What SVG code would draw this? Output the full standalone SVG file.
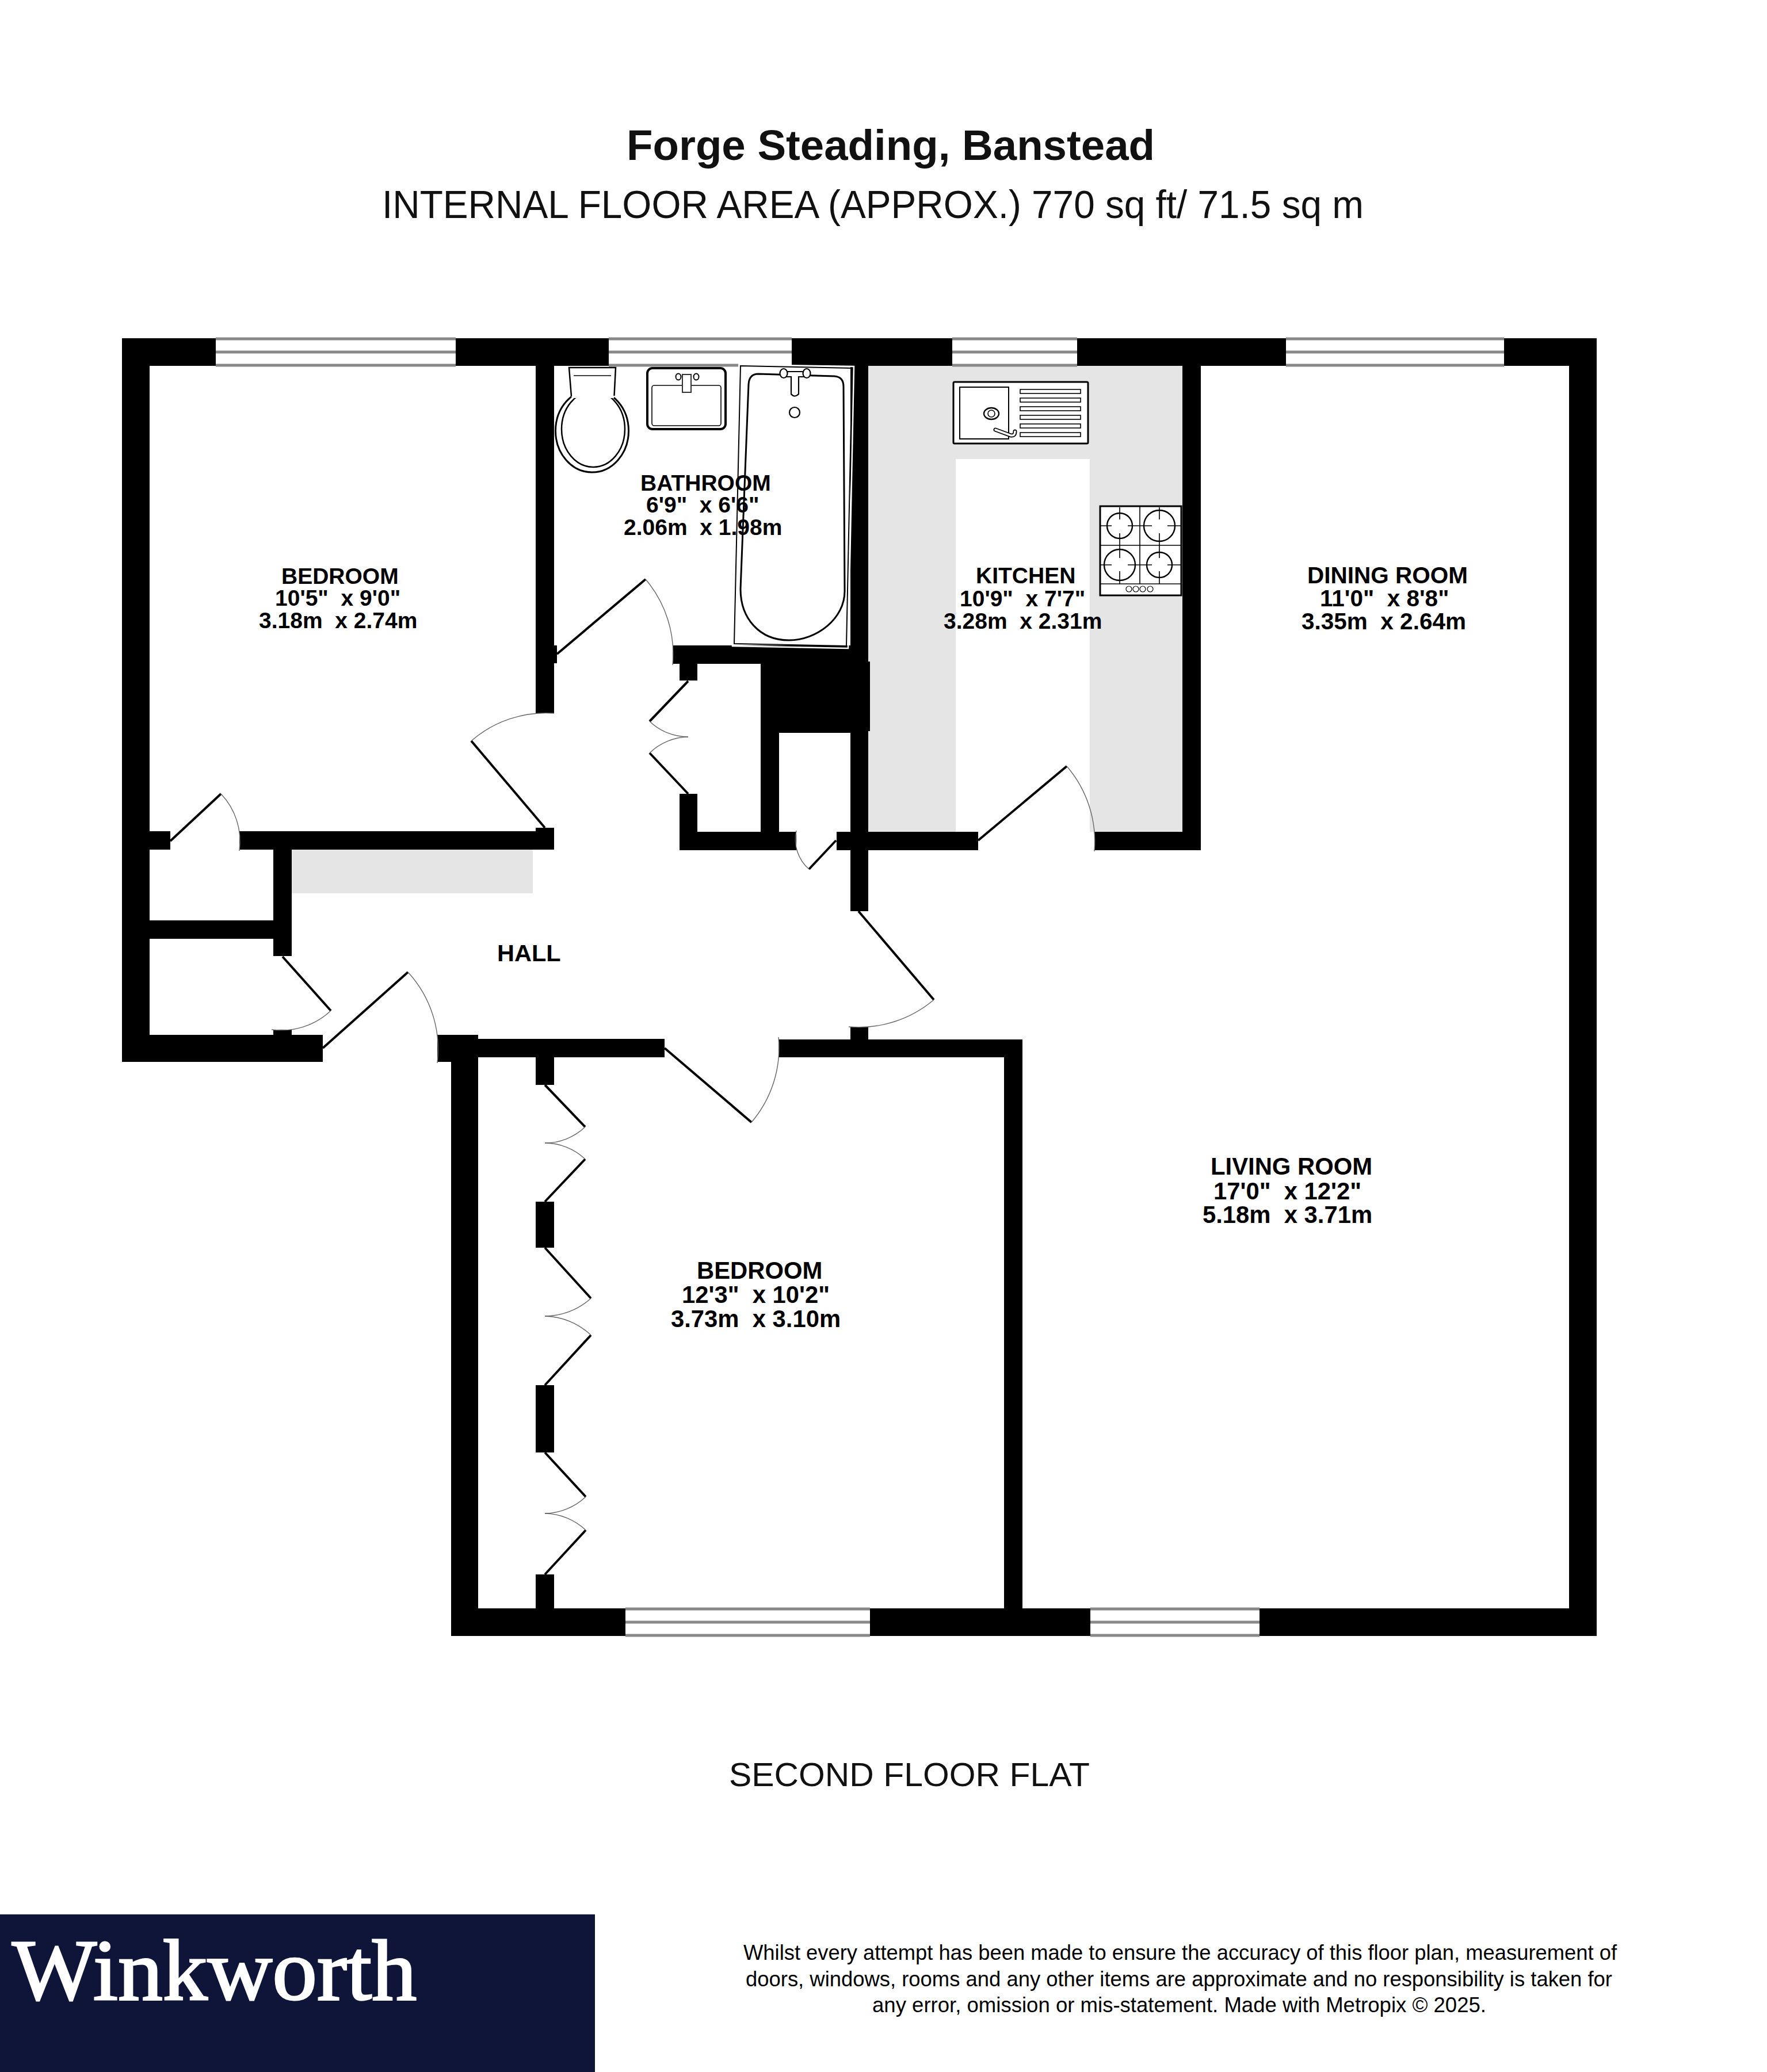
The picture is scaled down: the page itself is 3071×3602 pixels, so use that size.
<svg xmlns="http://www.w3.org/2000/svg" width="3071" height="3602" viewBox="0 0 3071 3602">
<style>
text{font-family:"Liberation Sans",Arial,sans-serif;white-space:pre;fill:#000}
.b{font-weight:bold}
.s1{font-size:39px}.s2{font-size:40.5px}.s3{font-size:41.8px}
.r{fill:#111}
#walls rect{fill:#000}
.g{fill:#e5e5e5}
.leaf{stroke:#000;stroke-width:4;fill:none}
.arc{stroke:#666;stroke-width:1.4;fill:none}
.win{fill:#fff}
.wl{stroke:#888;stroke-width:5;fill:none}
.f{fill:#fff;stroke:#000}
.l{fill:none;stroke:#000}
</style>
<rect width="3071" height="3602" fill="#fff"/>
<g id="floors">
<rect class="g" x="1509" y="636" width="546" height="810"/>
<rect x="1661" y="798" width="233" height="648" fill="#fff"/>
<rect class="g" x="507" y="1477" width="419" height="76"/>
</g>
<g id="walls">
<rect x="212" y="588" width="2563" height="48"/>
<rect x="212" y="588" width="48" height="1258"/>
<rect x="2727" y="588" width="48" height="2256"/>
<rect x="931" y="588" width="32" height="652"/>
<rect x="931" y="1122" width="37" height="31"/>
<rect x="212" y="1445" width="84" height="32"/>
<rect x="416" y="1445" width="547" height="32"/>
<rect x="931" y="1439" width="32" height="38"/>
<rect x="475" y="1445" width="32" height="217"/>
<rect x="212" y="1600" width="295" height="32"/>
<rect x="212" y="1799" width="349" height="47"/>
<rect x="475" y="1790" width="32" height="20"/>
<rect x="760" y="1799" width="71" height="47"/>
<rect x="784" y="1799" width="47" height="1045"/>
<rect x="831" y="1806" width="324" height="32"/>
<rect x="931" y="1806" width="32" height="80"/>
<rect x="1353" y="1807" width="424" height="31"/>
<rect x="1478" y="1785" width="31" height="53"/>
<rect x="1745" y="1807" width="32" height="1037"/>
<rect x="784" y="2796" width="1991" height="48"/>
<rect x="931" y="2089" width="32" height="80"/>
<rect x="931" y="2408" width="32" height="117"/>
<rect x="931" y="2737" width="32" height="107"/>
<rect x="1478" y="588" width="31" height="996"/>
<rect x="2055" y="588" width="32" height="889"/>
<rect x="1454" y="1446" width="246" height="32"/>
<rect x="1902" y="1446" width="185" height="32"/>
<rect x="1169" y="1122" width="309" height="32"/>
<rect x="1181" y="1122" width="31" height="61"/>
<rect x="1181" y="1380" width="31" height="98"/>
<rect x="1181" y="1446" width="203" height="32"/>
<rect x="1322" y="1122" width="32" height="356"/>
<rect x="1354" y="1150" width="124" height="124"/>
<rect x="1478" y="1150" width="34" height="121"/>
</g>
<g id="windows">
<g id="window-1"><rect class="win" x="375" y="586" width="417" height="51"/><path class="wl" d="M375 589H792M375 612H792M375 635H792"/></g>
<g id="window-2"><rect class="win" x="1058" y="586" width="318" height="51"/><path class="wl" d="M1058 589H1376M1058 612H1376M1058 635H1283"/></g>
<g id="window-3"><rect class="win" x="1655" y="586" width="217" height="51"/><path class="wl" d="M1655 589H1872M1655 612H1872M1655 635H1872"/></g>
<g id="window-4"><rect class="win" x="2235" y="586" width="379" height="51"/><path class="wl" d="M2235 589H2614M2235 612H2614M2235 635H2614"/></g>
<g id="window-5"><rect class="win" x="1087" y="2794" width="425" height="51"/><path class="wl" d="M1087 2797H1512M1087 2820H1512M1087 2843H1512"/></g>
<g id="window-6"><rect class="win" x="1895" y="2794" width="294" height="51"/><path class="wl" d="M1895 2797H2189M1895 2820H2189M1895 2843H2189"/></g>
</g>
<g id="doors">
<g id="door-cupboard-1"><path class="leaf" d="M296 1462L384 1380"/><path class="arc" d="M384 1380A120 120 0 0 1 416 1479"/></g>
<g id="door-bedroom-1"><path class="leaf" d="M947 1439L819 1288"/><path class="arc" d="M819 1288A198 198 0 0 1 963 1240"/></g>
<g id="door-bathroom"><path class="leaf" d="M968 1137L1122 1007"/><path class="arc" d="M1122 1007A201 201 0 0 1 1169 1156"/></g>
<g id="door-cupboard-2"><path class="leaf" d="M1196 1184L1129 1254"/><path class="arc" d="M1129 1254A97 97 0 0 0 1196 1281"/><path class="leaf" d="M1196 1380L1129 1309"/><path class="arc" d="M1129 1309A99 99 0 0 1 1196 1281"/></g>
<g id="door-cupboard-3"><path class="leaf" d="M491 1663L575 1757"/><path class="arc" d="M575 1757A126 126 0 0 1 472 1790"/></g>
<g id="door-entry"><path class="leaf" d="M561 1822L709 1690"/><path class="arc" d="M709 1690A198 198 0 0 1 760 1848"/></g>
<g id="door-cupboard-4"><path class="leaf" d="M1453 1461L1406 1511"/><path class="arc" d="M1406 1511A69 69 0 0 1 1384 1444"/></g>
<g id="door-kitchen"><path class="leaf" d="M1700 1461L1854 1332"/><path class="arc" d="M1854 1332A201 201 0 0 1 1902 1480"/></g>
<g id="door-living"><path class="leaf" d="M1492 1584L1623 1738"/><path class="arc" d="M1623 1738A202 202 0 0 1 1475 1785"/></g>
<g id="door-bedroom-2"><path class="leaf" d="M1155 1822L1306 1951"/><path class="arc" d="M1306 1951A199 199 0 0 0 1353 1803"/></g>
<g id="door-wardrobe-1"><path class="leaf" d="M947 1886L1017 1959"/><path class="arc" d="M1017 1959A101 101 0 0 1 947 1987"/><path class="leaf" d="M947 2089L1017 2015"/><path class="arc" d="M1017 2015A102 102 0 0 0 947 1987"/></g>
<g id="door-wardrobe-2"><path class="leaf" d="M947 2169L1027 2257"/><path class="arc" d="M1027 2257A119 119 0 0 1 947 2288"/><path class="leaf" d="M947 2408L1027 2321"/><path class="arc" d="M1027 2321A120 120 0 0 0 947 2288"/></g>
<g id="door-wardrobe-3"><path class="leaf" d="M947 2525L1018 2602"/><path class="arc" d="M1018 2602A106 106 0 0 1 947 2631"/><path class="leaf" d="M947 2737L1018 2660"/><path class="arc" d="M1018 2660A106 106 0 0 0 947 2631"/></g>
</g>
<g id="toilet">
<ellipse cx="1029" cy="749" rx="63.5" ry="72" class="f" stroke-width="3"/>
<ellipse cx="1031" cy="746" rx="55" ry="66" class="l" stroke-width="2.5"/>
<path fill="#fff" d="M989 639H1070L1068 688L1067 692H994L993 689Z"/>
<path class="l" stroke-width="2.5" d="M993 689L989 639H1070L1067.5 688"/>
<path class="l" stroke-width="1.5" d="M997 653H1062"/>
</g>
<g id="basin">
<rect x="1125" y="640" width="136" height="106" rx="9" class="f" stroke-width="4"/>
<rect x="1133" y="670" width="120" height="70" rx="4" class="l" stroke-width="1.6"/>
<ellipse cx="1179" cy="655" rx="4.5" ry="5.5" class="f" stroke-width="2"/>
<ellipse cx="1210" cy="655" rx="4.5" ry="5.5" class="f" stroke-width="2"/>
<rect x="1186" y="651" width="15" height="31" fill="#fff" stroke="#333" stroke-width="2"/>
</g>
<g id="bath">
<polygon points="1285,634 1484,637 1474,1127 1273,1123" fill="none" stroke="#fff" stroke-width="2.5"/>
<polygon points="1287,636 1481,640 1471,1123 1276,1119" fill="none" stroke="#000" stroke-width="2"/>
<path class="l" stroke-width="3" d="M1301 668Q1302 650 1318 650L1450 654Q1466 655 1466 672L1468 1028C1468 1075 1420 1113 1371 1113C1320 1113 1287 1075 1287 1024Z"/>
<path class="f" stroke-width="2.2" d="M1362 646H1402V655H1388V685Q1381 692 1375 685V655H1362Z"/>
<ellipse cx="1362" cy="649" rx="6.5" ry="8" class="f" stroke-width="2.2"/>
<ellipse cx="1402" cy="649" rx="6.5" ry="8" class="f" stroke-width="2.2"/>
<circle cx="1381" cy="717" r="9" class="f" stroke-width="2.2"/>
</g>
<g id="sink">
<rect x="1657" y="664" width="234" height="107" rx="2" class="f" stroke-width="3"/>
<rect x="1668" y="673" width="85" height="90" class="l" stroke-width="2"/>
<ellipse cx="1723" cy="719" rx="13" ry="10" class="l" stroke-width="2.4"/>
<circle cx="1723" cy="719" r="6" class="l" stroke-width="1.6"/>
<path d="M1730 747L1757 757Q1764 758 1764 750" fill="none" stroke="#000" stroke-width="7" stroke-linecap="round"/>
<path d="M1730 747L1757 757Q1764 758 1764 750" fill="none" stroke="#fff" stroke-width="3.5" stroke-linecap="round"/>
<rect x="1773" y="677" width="105" height="7" class="l" stroke-width="1.6"/>
<rect x="1773" y="692" width="105" height="7" class="l" stroke-width="1.6"/>
<rect x="1773" y="707" width="105" height="7" class="l" stroke-width="1.6"/>
<rect x="1773" y="722" width="105" height="7" class="l" stroke-width="1.6"/>
<rect x="1773" y="737" width="105" height="7" class="l" stroke-width="1.6"/>
<rect x="1773" y="752" width="105" height="7" class="l" stroke-width="1.6"/>
</g>
<g id="hob">
<rect x="1912" y="880" width="141" height="155" class="f" stroke-width="3"/>
<path class="l" stroke-width="1.6" d="M1981 880V1015M1913 948H2052M1913 1015H2052M1913 914H1932M1960 914H2002M2029 914H2052M1913 982H1932M1960 982H2002M2029 982H2052M1946 882V903M1946 927V970M1946 993V1015M2015 882V903M2015 927V970M2015 993V1015"/>
<circle cx="1946" cy="914" r="22" class="l" stroke-width="2.4"/>
<circle cx="2015" cy="914" r="27" class="l" stroke-width="2.4"/>
<circle cx="1946" cy="982" r="27" class="l" stroke-width="2.4"/>
<circle cx="2015" cy="982" r="22" class="l" stroke-width="2.4"/>
<circle cx="1962" cy="1024" r="5" class="l" stroke-width="1.2"/>
<circle cx="1974" cy="1024" r="5" class="l" stroke-width="1.2"/>
<circle cx="1986" cy="1024" r="5" class="l" stroke-width="1.2"/>
<circle cx="1999" cy="1024" r="5" class="l" stroke-width="1.2"/>
</g>
<g id="titles">
<text class="b r" x="1089" y="278" font-size="74" textLength="918" lengthAdjust="spacingAndGlyphs">Forge Steading, Banstead</text>
<text class="r" x="664" y="379" font-size="68" textLength="1706" lengthAdjust="spacingAndGlyphs">INTERNAL FLOOR AREA (APPROX.) 770 sq ft/ 71.5 sq m</text>
<text class="r" x="1267" y="3105" font-size="58" textLength="627" lengthAdjust="spacingAndGlyphs">SECOND FLOOR FLAT</text>
</g>
<g id="room-bedroom-1" class="b s1">
<text x="489" y="1015">BEDROOM</text>
<text x="478" y="1053">10'5"  x 9'0"</text>
<text x="450" y="1092">3.18m  x 2.74m</text>
</g>
<g id="room-bathroom" class="b s1">
<text x="1113" y="853">BATHROOM</text>
<text x="1123" y="891">6'9"  x 6'6"</text>
<text x="1084" y="930">2.06m  x 1.98m</text>
</g>
<g id="room-kitchen" class="b s1">
<text x="1696" y="1014">KITCHEN</text>
<text x="1668" y="1054">10'9"  x 7'7"</text>
<text x="1640" y="1093">3.28m  x 2.31m</text>
</g>
<g id="room-dining" class="b s2">
<text x="2272" y="1014">DINING ROOM</text>
<text x="2294" y="1054">11'0"  x 8'8"</text>
<text x="2262" y="1094">3.35m  x 2.64m</text>
</g>
<g id="room-living" class="b s3">
<text x="2104" y="2042">LIVING ROOM</text>
<text x="2109" y="2085">17'0"  x 12'2"</text>
<text x="2090" y="2126">5.18m  x 3.71m</text>
</g>
<g id="room-bedroom-2" class="b s3">
<text x="1211" y="2223">BEDROOM</text>
<text x="1185" y="2265">12'3"  x 10'2"</text>
<text x="1166" y="2307">3.73m  x 3.10m</text>
</g>
<g id="room-hall"><text class="b" x="864" y="1671" font-size="41.5">HALL</text></g>
<g id="logo">
<rect x="0" y="3328" width="1034" height="274" fill="#0f1539"/>
<text x="21" y="3476" font-size="150" textLength="703" lengthAdjust="spacingAndGlyphs" style="font-family:'Liberation Serif','Times New Roman',serif;fill:#fff;stroke:#fff;stroke-width:3">Winkworth</text>
</g>
<g id="disclaimer" class="r" font-size="36">
<text x="1292" y="3407" textLength="1518" lengthAdjust="spacingAndGlyphs">Whilst every attempt has been made to ensure the accuracy of this floor plan, measurement of</text>
<text x="1296" y="3453" textLength="1506" lengthAdjust="spacingAndGlyphs">doors, windows, rooms and any other items are approximate and no responsibility is taken for</text>
<text x="1516" y="3498" textLength="1067" lengthAdjust="spacingAndGlyphs">any error, omission or mis-statement. Made with Metropix © 2025.</text>
</g>
</svg>
